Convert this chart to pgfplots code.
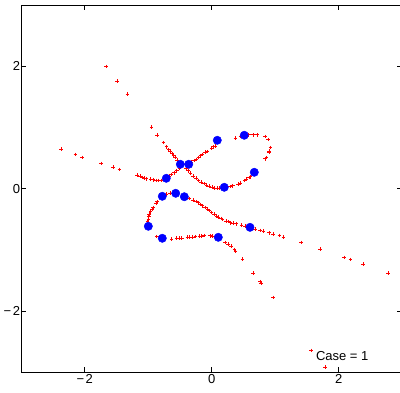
\documentclass[border=0pt]{standalone}
\usepackage{fontspec}
\setmainfont{Liberation Sans}
\usepackage{pgfplots}
\usepackage{pgfplotstable}
\pgfplotsset{compat=1.18}

\pgfplotstableread{
x y
-1.665 2.000
-1.487 1.755
-1.329 1.543
-0.945 1.008
-0.857 0.873
-0.762 0.752
-0.709 0.686
-0.677 0.637
-0.652 0.605
-0.625 0.572
-0.598 0.539
-0.567 0.507
-0.542 0.469
-0.405 0.333
-0.373 0.294
-0.331 0.252
-0.290 0.208
-0.247 0.170
-0.205 0.137
-0.164 0.109
-0.121 0.082
-0.079 0.060
-0.038 0.044
0.005 0.028
0.047 0.011
0.088 0.007
0.120 0.011
0.288 0.033
0.331 0.049
0.414 0.077
0.446 0.093
0.520 0.137
0.551 0.158
0.592 0.186
0.614 0.196
0.372 0.824
0.457 0.856
0.583 0.882
0.655 0.882
0.718 0.882
0.844 0.856
0.891 0.801
0.923 0.676
0.907 0.616
0.907 0.592
0.860 0.507
0.844 0.490
0.000 0.660
0.025 0.686
0.052 0.698
-0.069 0.605
-0.106 0.595
-0.142 0.562
-0.173 0.539
-0.211 0.507
-0.247 0.480
-0.279 0.464
-0.315 0.436
-0.510 0.333
-0.551 0.294
-0.594 0.261
-0.636 0.235
-0.668 0.208
-0.787 0.131
-0.841 0.137
-0.877 0.137
-0.920 0.147
-0.961 0.154
-1.024 0.163
-1.055 0.175
-1.087 0.186
-1.129 0.203
-1.172 0.219
-2.369 0.644
-2.148 0.562
-2.038 0.513
-1.739 0.415
-1.550 0.350
-1.455 0.317
-0.709 -0.087
-0.657 -0.075
-0.857 -0.212
-0.877 -0.245
-0.920 -0.304
-0.940 -0.337
-0.961 -0.376
-0.983 -0.418
-0.992 -0.458
-0.998 -0.495
-1.008 -0.539
-0.353 -0.157
-0.290 -0.185
-0.247 -0.212
-0.211 -0.229
-0.173 -0.255
-0.142 -0.278
-0.106 -0.304
-0.069 -0.332
-0.038 -0.359
0.000 -0.386
0.036 -0.418
0.079 -0.446
0.110 -0.467
0.146 -0.484
0.173 -0.500
0.225 -0.528
0.261 -0.539
0.299 -0.556
0.340 -0.565
0.383 -0.572
0.472 -0.598
0.524 -0.614
0.682 -0.663
0.761 -0.680
0.813 -0.691
0.907 -0.719
0.970 -0.745
1.065 -0.762
1.128 -0.794
1.411 -0.876
1.710 -0.990
2.088 -1.121
2.183 -1.154
2.387 -1.235
2.781 -1.382
-0.866 -0.784
-0.630 -0.822
-0.551 -0.810
-0.510 -0.810
-0.472 -0.806
-0.384 -0.794
-0.353 -0.794
-0.299 -0.789
-0.258 -0.784
-0.195 -0.773
-0.157 -0.773
-0.121 -0.762
-0.027 -0.768
0.016 -0.773
0.209 -0.876
0.261 -0.908
0.304 -0.940
0.356 -0.993
0.375 -1.023
0.482 -1.152
0.655 -1.382
0.765 -1.520
0.781 -1.546
0.970 -1.775
1.564 -2.641
1.784 -2.913
}\reddata

\pgfplotstableread{
x y
0.088 0.791
0.513 0.873
-0.494 0.399
-0.362 0.399
-0.715 0.170
0.671 0.268
0.198 0.023
-0.778 -0.124
-0.567 -0.075
-0.431 -0.131
-0.998 -0.614
0.603 -0.631
-0.778 -0.810
0.104 -0.794
}\bluedata

\begin{document}
\begin{tikzpicture}[x=1pt,y=1pt]
\begin{axis}[
  at={(21.2pt,19.7pt)}, anchor=south west,
  scale only axis, width=381pt, height=367.2pt,
  xmin=-3, xmax=3, ymin=-3, ymax=3,
  axis line style={line width=1pt},
  xtick={-2,0,2}, ytick={-2,0,2},
  xticklabels={−\kern1.5pt2,0,2},
  yticklabels={−\kern1.5pt2,0,2},
  tick align=inside, major tick length=5pt,
  tick style={line width=1pt, black},
  tick label style={font=\fontsize{13}{15}\selectfont},
  yticklabel style={inner xsep=1pt},
  xticklabel style={inner ysep=2pt},
  clip=false,
]
\addplot[only marks, mark=+, mark size=1.8pt, red, mark options={line width=0.9pt}] table {\reddata};
\addplot[only marks, mark=*, mark size=4.2pt, blue, mark options={draw=blue, fill=blue}] table {\bluedata};
\node[anchor=west, inner sep=0pt, font=\fontsize{13}{15}\selectfont] at (axis cs:1.64,-2.74) {Case = 1};
\end{axis}
\pgfresetboundingbox
\useasboundingbox (0,0) rectangle (400,392);
\end{tikzpicture}
\end{document}
